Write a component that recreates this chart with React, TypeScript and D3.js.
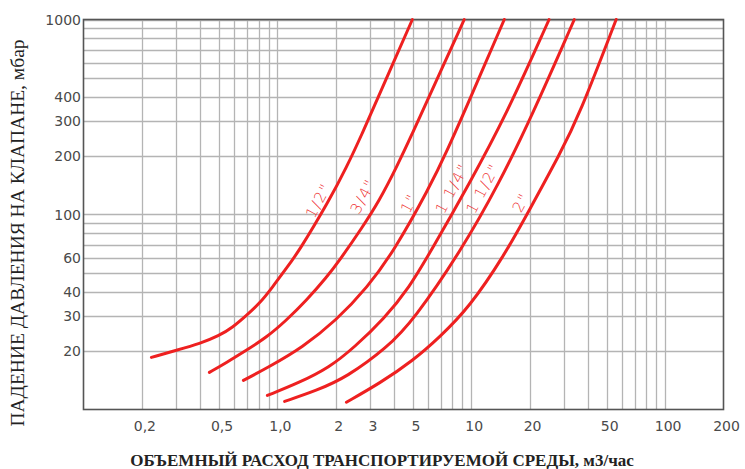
import React, { useEffect, useRef } from "react";
import * as d3 from "d3";

// flow (m3/h) / pressure drop (mbar)
const curveHalf = [[0.224, 18.5], [0.3, 20.1], [0.4, 21.8], [0.5, 23.9], [0.586, 26.3], [0.69, 30.3], [0.81, 35.0], [0.94, 42.2], [1.11, 52.8], [1.3, 65.4], [1.85, 118], [2.27, 174], [2.74, 260], [3.25, 384], [4.97, 1000]];
const curveThreeQuarter = [[0.446, 15.5], [0.546, 17.4], [0.69, 20.1], [0.878, 23.4], [1.11, 28.6], [1.41, 36.2], [1.79, 47.5], [2.09, 58.1], [2.74, 85.8], [3.36, 118], [4.11, 174], [4.97, 260], [5.93, 384], [9.2, 1000]];
const curveOne = [[0.668, 14.1], [0.91, 16.6], [1.345, 20.8], [2.01, 28.6], [2.91, 42.2], [4.01, 65.4], [6.08, 137], [7.52, 213], [9.77, 384], [14.8, 1000]];
const curveOneQuarter = [[0.888, 11.8], [1.3, 13.75], [1.85, 16.4], [2.49, 20.8], [3.56, 29.3], [4.79, 42.2], [6.22, 65.4], [9.77, 144], [15.1, 322], [25.2, 1000]];
const curveOneHalf = [[1.09, 11.0], [1.59, 12.5], [2.27, 14.6], [3.69, 20.8], [5.02, 28.6], [8.88, 65.4], [13.9, 144], [20.6, 322], [34.0, 1000]];
const curveTwo = [[2.27, 10.9], [3.4, 13.7], [5.0, 17.8], [6.84, 23.4], [9.77, 33.4], [14.8, 61.6], [19.9, 105], [28.7, 205], [36.0, 322], [55.9, 1000]];

const series = [curveHalf, curveThreeQuarter, curveOne, curveOneQuarter, curveOneHalf, curveTwo];
const seriesNames = ["1/2\"", "3/4\"", "1\"", "1 1/4\"", "1 1/2\"", "2\""];
const labelAt = [[1.63, 118], [2.77, 124], [4.79, 114], [7.98, 136], [11.5, 136], [18.1, 115]];

const xTicks = [0.2, 0.5, 1, 2, 3, 5, 10, 20, 50, 100, 200];
const xTickLabels = ["0,2", "0,5", "1,0", "2", "3", "5", "10", "20", "50", "100", "200"];
const yTicks = [20, 30, 40, 60, 100, 200, 300, 400, 1000];

const W = 745;
const H = 469;

const App = () => {
  const ref = useRef<SVGSVGElement>(null);

  useEffect(() => {
    const svg = d3.select(ref.current);
    svg.selectAll("*").remove();

    const x = d3.scaleLog().domain([0.1, 200]).range([83.5, 723.5]);
    const y = d3.scaleLog().domain([10, 1000]).range([409.5, 19.5]);

    // grid
    const xGrid: number[] = [];
    [0.1, 1, 10].forEach((dec) => {
      for (let k = 2; k <= 10; k++) xGrid.push(dec * k);
    });
    const yGrid: number[] = [];
    [10, 100].forEach((dec) => {
      for (let k = 2; k <= 10; k++) yGrid.push(dec * k);
    });

    const grid = svg.append("g").attr("stroke", "#b4b4b4").attr("stroke-width", 1.3);
    grid.selectAll(".gx")
      .data(xGrid)
      .enter()
      .append("line")
      .attr("x1", (d) => Math.round(x(d)) + 0.5)
      .attr("x2", (d) => Math.round(x(d)) + 0.5)
      .attr("y1", y(1000))
      .attr("y2", y(10));
    grid.selectAll(".gy")
      .data(yGrid)
      .enter()
      .append("line")
      .attr("x1", x(0.1))
      .attr("x2", x(200))
      .attr("y1", (d) => Math.round(y(d)) + 0.5)
      .attr("y2", (d) => Math.round(y(d)) + 0.5);

    // frame
    svg.append("rect")
      .attr("x", x(0.1))
      .attr("y", y(1000))
      .attr("width", x(200) - x(0.1))
      .attr("height", y(10) - y(1000))
      .attr("fill", "none")
      .attr("stroke", "#555")
      .attr("stroke-width", 1.6);

    // curves
    const line = d3.line<number[]>()
      .x((d) => x(d[0]))
      .y((d) => y(d[1]))
      .curve(d3.curveBasis);

    svg.append("g")
      .selectAll("path")
      .data(series)
      .enter()
      .append("path")
      .attr("d", (d) => line(d))
      .attr("fill", "none")
      .attr("stroke", "#ee2020")
      .attr("stroke-width", 3)
      .attr("stroke-linecap", "round");

    // curve labels
    svg.append("g")
      .selectAll("text")
      .data(seriesNames)
      .enter()
      .append("text")
      .attr("transform", (d, i) => `translate(${x(labelAt[i][0])},${y(labelAt[i][1])}) rotate(-62)`)
      .attr("text-anchor", "middle")
      .attr("dominant-baseline", "central")
      .style("font-family", "DejaVu Sans, sans-serif")
      .style("font-size", "15px")
      .style("font-weight", "300")
      .style("letter-spacing", "1.5px")
      .style("fill", "#ee3030")
      .text((d) => d);

    // tick labels
    svg.append("g")
      .selectAll("text")
      .data(xTicks)
      .enter()
      .append("text")
      .attr("x", (d) => x(d) + 3)
      .attr("y", 431)
      .attr("text-anchor", "middle")
      .style("font-family", "DejaVu Sans, sans-serif")
      .style("font-size", "14px")
      .style("fill", "#4a4a4a")
      .text((d, i) => xTickLabels[i]);

    svg.append("g")
      .selectAll("text")
      .data(yTicks)
      .enter()
      .append("text")
      .attr("x", 81)
      .attr("y", (d) => y(d) + 5)
      .attr("text-anchor", "end")
      .style("font-family", "DejaVu Sans, sans-serif")
      .style("font-size", "14px")
      .style("fill", "#4a4a4a")
      .text((d) => String(d));

    // axis titles
    svg.append("text")
      .attr("x", 382)
      .attr("y", 466)
      .attr("text-anchor", "middle")
      .style("font-family", "Liberation Serif, serif")
      .style("font-weight", "bold")
      .style("font-size", "17px")
      .style("fill", "#222")
      .text("ОБЪЕМНЫЙ РАСХОД ТРАНСПОРТИРУЕМОЙ СРЕДЫ, м3/час");

    svg.append("text")
      .attr("transform", "translate(24,233) rotate(-90)")
      .attr("text-anchor", "middle")
      .style("font-family", "Liberation Serif, serif")
      .style("font-size", "19.5px")
      .style("fill", "#222")
      .text("ПАДЕНИЕ ДАВЛЕНИЯ НА КЛАПАНЕ, мбар");
  }, []);

  return (
    <svg
      ref={ref}
      width={W}
      height={H}
      style={{ position: "absolute", left: 0, top: 0, background: "white" }}
    />
  );
};

export default App;
